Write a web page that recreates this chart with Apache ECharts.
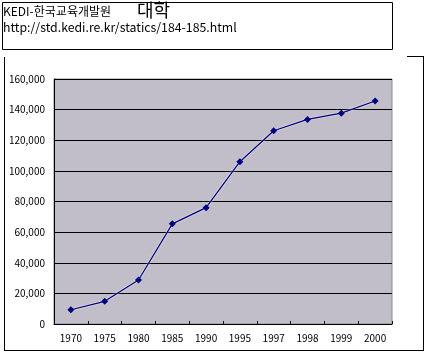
<!DOCTYPE html>
<html>
<head>
<meta charset="utf-8">
<script src="https://cdn.jsdelivr.net/npm/echarts@6/dist/echarts.min.js"></script>
<style>
  html, body { margin: 0; padding: 0; background: #fff; }
  #main { width: 430px; height: 354px; }
</style>
</head>
<body>
<div id="main"></div>
<script>
  const years = ["1970", "1975", "1980", "1985", "1990", "1995", "1997", "1998", "1999", "2000"];
  const students = [9300, 14800, 28700, 65400, 76000, 106000, 126200, 133600, 137700, 145600];
  const yTicks = [0, 20000, 40000, 60000, 80000, 100000, 120000, 140000, 160000];

  const font = "'Noto Sans CJK KR', 'Noto Sans CJK JP', sans-serif";
  let myChart = echarts.init(document.getElementById("main"));
  function frameLine(x1, y1, x2, y2) {
    return {
      type: "line",
      shape: { x1: x1, y1: y1, x2: x2, y2: y2 },
      style: { stroke: "#000", lineWidth: 1 },
      z: 100,
    };
  }
  let option = {
    animation: false,
    grid: {
      left: 54,
      right: 38,
      top: 79,
      bottom: 30,
      show: true,
      //플롯 영역 배경
      backgroundColor: "#c2bec9",
      borderColor: "#8a8a8a",
      borderWidth: 1,
    },
    xAxis: {
      type: "category",
      data: years,
      boundaryGap: true,
      axisLine: { lineStyle: { color: "#000", width: 1 } },
      axisTick: { show: true, inside: true, length: 3, interval: 0, lineStyle: { color: "#000" } },
      axisLabel: { color: "#000", fontSize: 10, fontFamily: font, margin: 9, interval: 0 },
    },
    yAxis: {
      type: "value",
      min: yTicks[0],
      max: yTicks[yTicks.length - 1],
      interval: 20000,
      axisLine: { show: true, lineStyle: { color: "#000", width: 1 } },
      axisTick: { show: false },
      axisLabel: {
        color: "#000",
        fontSize: 10,
        fontFamily: font,
        margin: 9,
        formatter: (v) => v.toLocaleString("en-US"),
      },
      splitLine: { lineStyle: { color: "#000", width: 1 } },
    },
    series: [
      {
        type: "line",
        data: students,
        symbol: "diamond",
        symbolSize: 7,
        itemStyle: { color: "#000080" },
        lineStyle: {
          color: "#000080",
          width: 1.2,
          shadowColor: "rgba(255,255,255,0.9)",
          shadowBlur: 2,
        },
      },
    ],
    graphic: [
      //제목 상자
      {
        type: "rect",
        shape: { x: 2.5, y: 2.5, width: 390, height: 47 },
        style: { fill: "#fff", stroke: "#000", lineWidth: 1 },
      },
      {
        type: "text",
        left: 3,
        top: 5,
        style: { text: "KEDI-한국교육개발원", font: "12px " + font, fill: "#000" },
      },
      {
        type: "text",
        left: 137,
        top: 1,
        style: { text: "대학", font: "18px " + font, fill: "#000" },
      },
      {
        type: "text",
        left: 3,
        top: 21,
        style: { text: "http://std.kedi.re.kr/statics/184-185.html", font: "12.3px " + font, fill: "#000" },
      },
      //바깥 테두리
      frameLine(4.5, 57, 4.5, 351),
      frameLine(4, 350.5, 424, 350.5),
      frameLine(423.5, 56, 423.5, 351),
      frameLine(407, 56.5, 424, 56.5),
    ],
  };
  myChart.setOption(option);
</script>
</body>
</html>
